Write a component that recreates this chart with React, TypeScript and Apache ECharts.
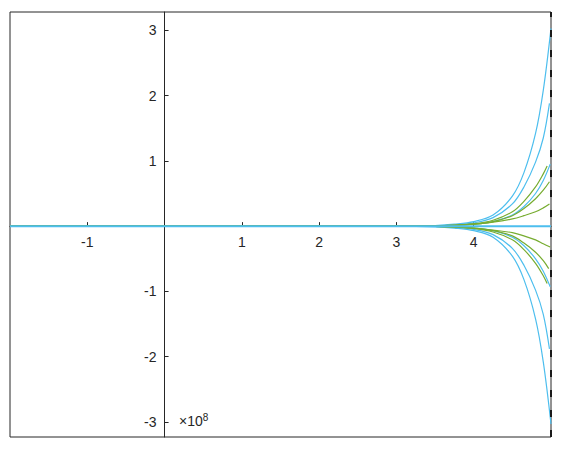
import React, { useEffect, useRef } from "react";
import * as echarts from "echarts";

// values in units of 1e8
const xTickLabels = [-1, 1, 2, 3, 4];
const yTickLabels = [-3, -2, -1, 1, 2, 3];

const zeroLine: [number, number][] = [[-2, 0], [5, 0]];

const blueUp1: [number, number][] = [[-2, 0], [3, 0], [3.5, 0.01], [3.75, 0.03], [4, 0.07], [4.25, 0.17], [4.5, 0.46], [4.65, 0.82], [4.8, 1.42], [4.9, 2.08], [5, 3.03]];
const blueUp2: [number, number][] = [[-2, 0], [3, 0], [3.5, 0.005], [3.75, 0.02], [4, 0.05], [4.25, 0.13], [4.5, 0.34], [4.65, 0.6], [4.8, 0.98], [4.9, 1.35], [4.98, 1.88]];
const blueUp3: [number, number][] = [[-2, 0], [3, 0], [3.5, 0.003], [3.75, 0.01], [4, 0.03], [4.25, 0.07], [4.5, 0.17], [4.65, 0.3], [4.8, 0.5], [4.9, 0.7], [4.99, 0.95]];
const greenUp1: [number, number][] = [[-2, 0], [3, 0], [3.5, 0.004], [3.75, 0.015], [4, 0.035], [4.25, 0.09], [4.5, 0.22], [4.65, 0.38], [4.8, 0.6], [4.9, 0.8], [4.95, 0.92]];
const greenUp2: [number, number][] = [[-2, 0], [3, 0], [3.5, 0.004], [3.75, 0.012], [4, 0.03], [4.25, 0.07], [4.5, 0.16], [4.65, 0.27], [4.8, 0.42], [4.9, 0.55], [4.98, 0.68]];
const greenUp3: [number, number][] = [[-2, 0], [3, 0], [3.5, 0.003], [3.75, 0.01], [4, 0.03], [4.25, 0.06], [4.5, 0.11], [4.65, 0.16], [4.8, 0.22], [4.9, 0.28], [4.98, 0.34]];

const blueDn1: [number, number][] = [[-2, 0], [3, 0], [3.5, -0.01], [3.75, -0.03], [4, -0.07], [4.25, -0.17], [4.5, -0.46], [4.65, -0.82], [4.8, -1.42], [4.9, -2.08], [5, -3.03]];
const blueDn2: [number, number][] = [[-2, 0], [3, 0], [3.5, -0.005], [3.75, -0.02], [4, -0.05], [4.25, -0.13], [4.5, -0.34], [4.65, -0.6], [4.8, -0.98], [4.9, -1.35], [4.98, -1.88]];
const blueDn3: [number, number][] = [[-2, 0], [3, 0], [3.5, -0.003], [3.75, -0.01], [4, -0.03], [4.25, -0.07], [4.5, -0.17], [4.65, -0.3], [4.8, -0.5], [4.9, -0.69], [4.99, -0.93]];
const greenDn1: [number, number][] = [[-2, 0], [3, 0], [3.5, -0.004], [3.75, -0.015], [4, -0.035], [4.25, -0.09], [4.5, -0.21], [4.65, -0.36], [4.8, -0.57], [4.9, -0.76], [4.95, -0.88]];
const greenDn2: [number, number][] = [[-2, 0], [3, 0], [3.5, -0.004], [3.75, -0.012], [4, -0.03], [4.25, -0.07], [4.5, -0.15], [4.65, -0.26], [4.8, -0.4], [4.9, -0.53], [4.97, -0.65]];
const greenDn3: [number, number][] = [[-2, 0], [3, 0], [3.5, -0.003], [3.75, -0.01], [4, -0.03], [4.25, -0.06], [4.5, -0.1], [4.65, -0.15], [4.8, -0.21], [4.9, -0.27], [4.99, -0.32]];

const BLUE = "#4DBEEE";
const GREEN = "#77AC30";
const INK = "#262626";
const FONT = "'Liberation Sans', Arial, sans-serif";

const X_MIN = -2;
const X_MAX = 5;
const Y_MIN = -3.23;
const Y_MAX = 3.28;

export default function App() {
  const ref = useRef<HTMLDivElement>(null);
  useEffect(() => {
    if (!ref.current) return;
    const chart = echarts.init(ref.current, undefined, { renderer: "svg" });
    const gridLeft = 10;
    const gridTop = 12;
    const gridW = 541;
    const gridH = 425;
    // place axes at the zero crossing (labels follow)
    const xOffset = -(gridH * (0 - Y_MIN)) / (Y_MAX - Y_MIN);
    const yOffset = -(gridW * (0 - X_MIN)) / (X_MAX - X_MIN);

    const mk = (data: [number, number][], color: string) => ({
      type: "line",
      data,
      smooth: 0.35,
      showSymbol: false,
      symbol: "none",
      lineStyle: { color, width: 1.2 },
      z: 3,
    });
    const series: any[] = [
      mk(blueUp1, BLUE),
      mk(blueUp2, BLUE),
      mk(blueUp3, BLUE),
      mk(blueDn1, BLUE),
      mk(blueDn2, BLUE),
      mk(blueDn3, BLUE),
      mk(greenUp1, GREEN),
      mk(greenUp2, GREEN),
      mk(greenUp3, GREEN),
      mk(greenDn1, GREEN),
      mk(greenDn2, GREEN),
      mk(greenDn3, GREEN),
      {
        type: "line",
        data: zeroLine,
        showSymbol: false,
        symbol: "none",
        lineStyle: { color: BLUE, width: 2 },
        z: 10,
        markLine: {
          silent: true,
          symbol: "none",
          label: { show: false },
          lineStyle: { color: "#1a1a1a", type: [7, 13], width: 2 },
          data: [{ xAxis: 5 }],
        },
      },
    ];
    chart.setOption({
      animation: false,
      backgroundColor: "#fff",
      grid: {
        left: gridLeft,
        top: gridTop,
        width: gridW,
        height: gridH,
        outerBoundsMode: "none",
        containLabel: false,
        show: true,
        borderColor: INK,
        borderWidth: 1,
        backgroundColor: "transparent",
      },
      xAxis: {
        type: "value",
        min: X_MIN,
        max: X_MAX,
        position: "bottom",
        offset: xOffset,
        axisLine: { show: true, onZero: false, lineStyle: { color: INK, width: 1 } },
        axisTick: { show: true, inside: true, length: 4, customValues: xTickLabels, lineStyle: { color: INK } },
        axisLabel: { show: true, customValues: xTickLabels, color: INK, fontSize: 14, fontFamily: FONT, margin: 9 },
        splitLine: { show: false },
      },
      yAxis: {
        type: "value",
        min: Y_MIN,
        max: Y_MAX,
        position: "left",
        offset: yOffset,
        axisLine: { show: true, onZero: false, lineStyle: { color: INK, width: 1 } },
        axisTick: { show: true, inside: true, length: 4, customValues: yTickLabels, lineStyle: { color: INK } },
        axisLabel: { show: true, customValues: yTickLabels, color: INK, fontSize: 14, fontFamily: FONT, margin: 8 },
        splitLine: { show: false },
      },
      graphic: [
        {
          type: "text",
          left: 179,
          top: 412,
          style: {
            text: "×10{sup|8}",
            fill: INK,
            font: `14px ${FONT}`,
            rich: {
              sup: { fontSize: 10, fontFamily: FONT, fill: INK, verticalAlign: "top", padding: [0, 0, 8, 0] },
            },
          },
        },
      ],
      series,
    });
    return () => chart.dispose();
  }, []);
  return (
    <div
      ref={ref}
      style={{ position: "fixed", left: 0, top: 0, width: 565, height: 452, background: "#fff" }}
    />
  );
}
